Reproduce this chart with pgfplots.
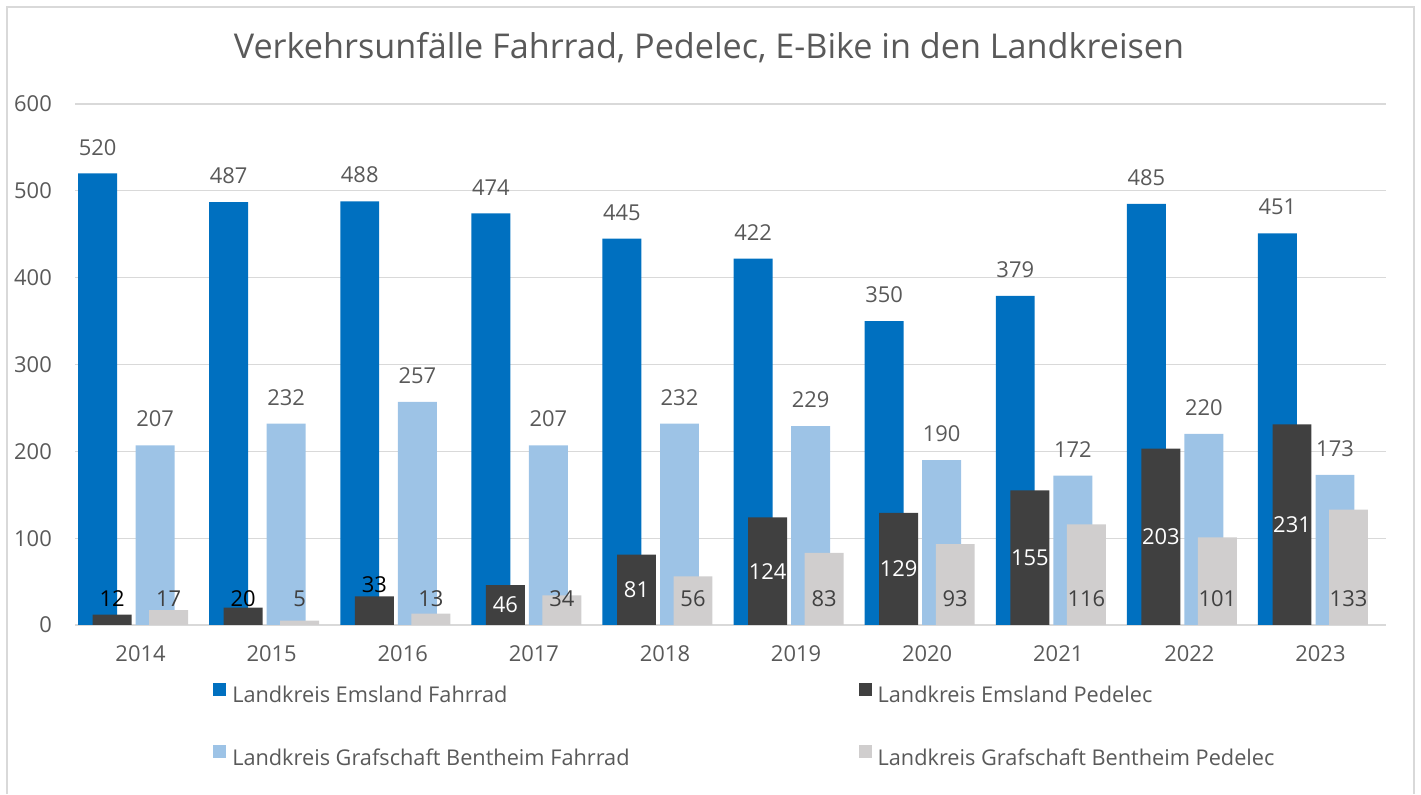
\documentclass[border=0pt]{standalone}
\usepackage{fontspec}
\setmainfont{Open Sans}
\usepackage{pgfplots}
\pgfplotsset{compat=1.18}
\definecolor{cBlue}{HTML}{0070C0}
\definecolor{cDark}{HTML}{404040}
\definecolor{cLBlue}{HTML}{9DC3E6}
\definecolor{cGray}{HTML}{D0CECE}
\definecolor{cText}{HTML}{595959}
\definecolor{cGrid}{HTML}{D9D9D9}
\newcommand{\lblfont}{\fontsize{22}{26}\selectfont}
\newcommand{\legfont}{\fontsize{21.8}{26}\selectfont}
\begin{document}
\begin{tikzpicture}
\path (0bp,0bp) rectangle (1421bp,794bp);
\draw[cGrid, line width=1.5bp] (7bp,0bp) -- (7bp,787bp) -- (1414bp,787bp) -- (1414bp,0bp);
\node[text=cText, font=\fontsize{34.3}{40}\selectfont] at (709bp,746bp) {Verkehrsunfälle Fahrrad, Pedelec, E-Bike in den Landkreisen};
\begin{axis}[
  at={(75bp,169bp)}, anchor=south west,
  scale only axis, width=1311bp, height=521bp,
  xmin=-0.5, xmax=9.5, ymin=0, ymax=600,
  ytick={0,100,200,300,400,500,600},
  xtick={0,1,2,3,4,5,6,7,8,9},
  xticklabels={2014,2015,2016,2017,2018,2019,2020,2021,2022,2023},
  /pgf/number format/assume math mode=true,
  ymajorgrids, major grid style={cGrid, line width=1.3bp},
  axis line style={draw=none}, tick style={draw=none},
  ticklabel style={text=cText, font=\lblfont, inner sep=0pt},
  yticklabel style={anchor=east, xshift=-23bp},
  xticklabel style={anchor=north, yshift=-20bp},
  legend columns=2,
  legend cell align=left,
  legend image code/.code={\fill[#1] (0bp,-0.5bp) rectangle (13bp,12.5bp);},
  legend style={at={(0.1053,-0.1100)}, anchor=north west, draw=none, fill=none,
    inner sep=0pt, text=cText, font=\legfont,
    nodes={inner sep=0pt},
    /tikz/column 1/.style={column sep=6bp},
    /tikz/column 2/.style={column sep=229bp},
    /tikz/column 3/.style={column sep=6bp},
    row sep=41.3bp},
]
\addplot[ybar, bar width=0.297, bar shift=-0.328, fill=cBlue, draw=none]
  coordinates {(0,520) (1,487) (2,488) (3,474) (4,445) (5,422) (6,350) (7,379) (8,485) (9,451)};
\addlegendentry{Landkreis Emsland Fahrrad}
\addplot[ybar, bar width=0.297, bar shift=-0.217, fill=cDark, draw=none]
  coordinates {(0,12) (1,20) (2,33) (3,46) (4,81) (5,124) (6,129) (7,155) (8,203) (9,231)};
\addlegendentry{Landkreis Emsland Pedelec}
\addplot[ybar, bar width=0.297, bar shift=0.111, fill=cLBlue, draw=none]
  coordinates {(0,207) (1,232) (2,257) (3,207) (4,232) (5,229) (6,190) (7,172) (8,220) (9,173)};
\addlegendentry{Landkreis Grafschaft Bentheim Fahrrad}
\addplot[ybar, bar width=0.297, bar shift=0.214, fill=cGray, draw=none]
  coordinates {(0,17) (1,5) (2,13) (3,34) (4,56) (5,83) (6,93) (7,116) (8,101) (9,133)};
\addlegendentry{Landkreis Grafschaft Bentheim Pedelec}
% data labels: Emsland Fahrrad (outside end)
\addplot[draw=none, mark=none, forget plot, x filter/.expression={x-0.328},
  point meta=explicit symbolic, nodes near coords,
  nodes near coords style={text=cText, font=\lblfont, anchor=south, inner sep=0pt, yshift=18bp}]
  coordinates {(0,520) [520] (1,487) [487] (2,488) [488] (3,474) [474] (4,445) [445] (5,422) [422] (6,350) [350] (7,379) [379] (8,485) [485] (9,451) [451]};
% data labels: Grafschaft Bentheim Fahrrad (outside end)
\addplot[draw=none, mark=none, forget plot, x filter/.expression={x+0.111},
  point meta=explicit symbolic, nodes near coords,
  nodes near coords style={text=cText, font=\lblfont, anchor=south, inner sep=0pt, yshift=18bp}]
  coordinates {(0,207) [207] (1,232) [232] (2,257) [257] (3,207) [207] (4,232) [232] (5,229) [229] (6,190) [190] (7,172) [172] (8,220) [220] (9,173) [173]};
% data labels: Emsland Pedelec (small values, above, black)
\addplot[draw=none, mark=none, forget plot, x filter/.expression={x-0.217},
  point meta=explicit symbolic, nodes near coords,
  nodes near coords style={text=black, font=\lblfont, anchor=center, inner sep=0pt}]
  coordinates {(0,30) [12] (1,30) [20] (2,47) [33]};
% data labels: Emsland Pedelec (inside, white)
\addplot[draw=none, mark=none, forget plot, x filter/.expression={x-0.217},
  point meta=explicit symbolic, nodes near coords,
  nodes near coords style={text=white, font=\lblfont, anchor=center, inner sep=0pt}]
  coordinates {(3,23) [46] (4,40.5) [81] (5,62) [124] (6,64.5) [129] (7,77.5) [155] (8,101.5) [203] (9,115.5) [231]};
% data labels: Grafschaft Bentheim Pedelec (inside base)
\addplot[draw=none, mark=none, forget plot, x filter/.expression={x+0.214},
  point meta=explicit symbolic, nodes near coords,
  nodes near coords style={text=cDark, font=\lblfont, anchor=center, inner sep=0pt}]
  coordinates {(0,30) [17] (1,30) [5] (2,30) [13] (3,30) [34] (4,30) [56] (5,30) [83] (6,30) [93] (7,30) [116] (8,30) [101] (9,30) [133]};
\end{axis}
\end{tikzpicture}
\end{document}
